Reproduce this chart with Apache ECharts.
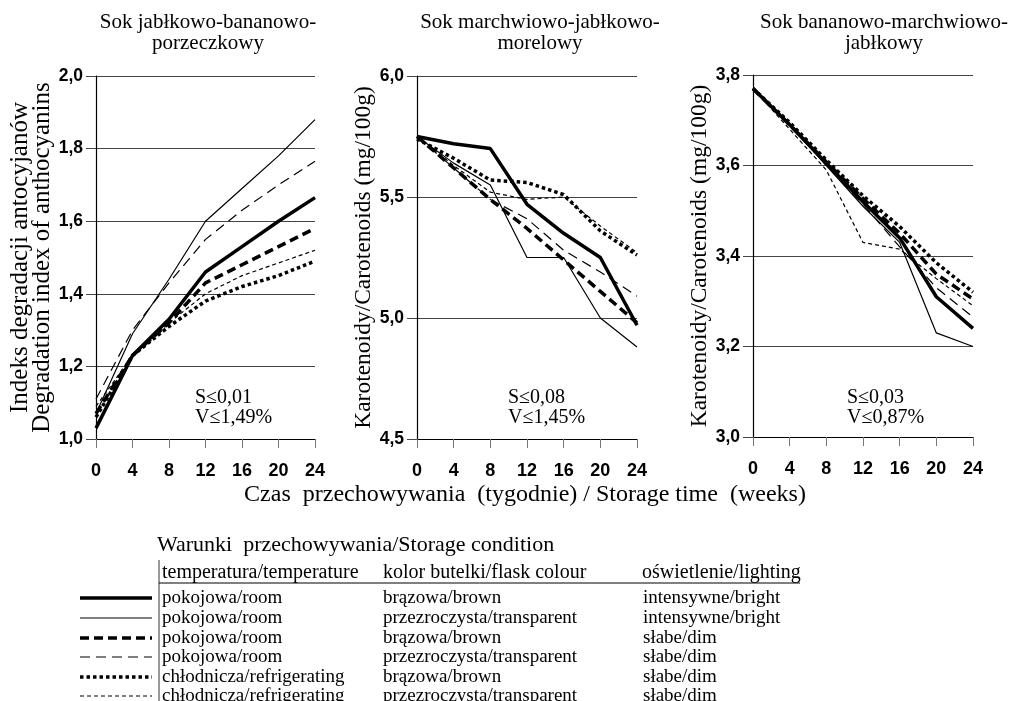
<!DOCTYPE html>
<html>
<head>
<meta charset="utf-8">
<title>Przechowywanie soków</title>
<script src="https://cdn.jsdelivr.net/npm/echarts@6/dist/echarts.min.js"></script>
<style>
  html, body { margin: 0; padding: 0; background: #fff; }
  #chart { width: 1012px; height: 701px; }
</style>
</head>
<body>
<div id="chart"></div>
<script>
// storage time, weeks
const weeks = [0, 4, 8, 12, 16, 20, 24]

// Sok jabłkowo-bananowo-porzeczkowy: degradation index of anthocyanins
const appleBananaCurrant = [
  [1.03, 1.23, 1.33, 1.46, 1.53, 1.60, 1.665],  // room, brown, bright
  [1.07, 1.29, 1.44, 1.60, 1.69, 1.78, 1.88],   // room, transparent, bright
  [1.07, 1.23, 1.32, 1.43, 1.48, 1.53, 1.58],   // room, brown, dim
  [1.11, 1.30, 1.43, 1.55, 1.63, 1.70, 1.765],  // room, transparent, dim
  [1.06, 1.23, 1.31, 1.38, 1.42, 1.45, 1.49],   // fridge, brown, dim
  [1.09, 1.23, 1.32, 1.40, 1.45, 1.485, 1.52]   // fridge, transparent, dim
]

// Sok marchwiowo-jabłkowo-morelowy: carotenoids mg/100g
const carrotAppleApricot = [
  [5.75, 5.72, 5.70, 5.47, 5.35, 5.25, 4.97],
  [5.75, 5.64, 5.55, 5.25, 5.25, 5.00, 4.88],
  [5.75, 5.62, 5.49, 5.37, 5.24, 5.11, 4.98],
  [5.75, 5.62, 5.49, 5.41, 5.28, 5.19, 5.09],
  [5.74, 5.66, 5.57, 5.56, 5.51, 5.36, 5.26],
  [5.75, 5.63, 5.52, 5.49, 5.50, 5.38, 5.27]
]

// Sok bananowo-marchwiowo-jabłkowy: carotenoids mg/100g
const bananaCarrotApple = [
  [3.77, 3.69, 3.605, 3.52, 3.44, 3.31, 3.24],
  [3.77, 3.69, 3.60, 3.51, 3.43, 3.23, 3.20],
  [3.77, 3.69, 3.608, 3.527, 3.45, 3.36, 3.305],
  [3.77, 3.69, 3.60, 3.515, 3.42, 3.33, 3.265],
  [3.77, 3.695, 3.612, 3.533, 3.465, 3.385, 3.32],
  [3.77, 3.68, 3.59, 3.43, 3.415, 3.35, 3.29]
]

const panelData = [appleBananaCurrant, carrotAppleApricot, bananaCarrotApple]
const panelTitles = ['Sok jabłkowo-bananowo-\nporzeczkowy', 'Sok marchwiowo-jabłkowo-\nmorelowy', 'Sok bananowo-marchwiowo-\njabłkowy']
const yNames = ['Indeks degradacji antocyjanów\nDegradation index of anthocyanins', 'Karotenoidy/Carotenoids (mg/100g)', 'Karotenoidy/Carotenoids (mg/100g)']
const yMin = [1.0, 4.5, 3.0]
const yMax = [2.0, 6.0, 3.8]
const yStep = [0.2, 0.5, 0.2]
const statS = ['S≤0,01', 'S≤0,08', 'S≤0,03']
const statV = ['V≤1,49%', 'V≤1,45%', 'V≤0,87%']

const tempLabels = ['pokojowa/room', 'pokojowa/room', 'pokojowa/room', 'pokojowa/room', 'chłodnicza/refrigerating', 'chłodnicza/refrigerating']
const flaskLabels = ['brązowa/brown', 'przezroczysta/transparent', 'brązowa/brown', 'przezroczysta/transparent', 'brązowa/brown', 'przezroczysta/transparent']
const lightLabels = ['intensywne/bright', 'intensywne/bright', 'słabe/dim', 'słabe/dim', 'słabe/dim', 'słabe/dim']

// layout / styles
const grids = [
  { left: 96, top: 76, width: 219, height: 363 },
  { left: 417, top: 76, width: 220, height: 363 },
  { left: 753, top: 75, width: 220, height: 362 }
]
const titleX = [208, 540, 884]
const statX = [195, 508, 847]
const nameGaps = [42, 34, 35]
const nameSizes = [25, 23.5, 23.5]
const lineStyles = [
  { width: 3.5, type: 'solid' },
  { width: 1.2, type: 'solid' },
  { width: 3.5, type: [9, 5] },
  { width: 1.2, type: [10, 6] },
  { width: 3.5, type: [3.5, 3] },
  { width: 1.2, type: [4, 3] }
]
const serif = "'Liberation Serif', 'Times New Roman', serif"
const sans = "'Liberation Sans', Arial, sans-serif"

const fmt = v => v.toFixed(1).replace('.', ',')

const chart = echarts.init(document.getElementById('chart'))

const xAxes = grids.map((g, i) => ({
  type: 'value',
  gridIndex: i,
  min: 0,
  max: 24,
  interval: 4,
  axisLine: { show: true, lineStyle: { color: '#000', width: 1.2 } },
  axisTick: { show: true, length: 9, lineStyle: { color: '#777' } },
  axisLabel: { color: '#000', fontFamily: sans, fontWeight: 'bold', fontSize: 18, margin: 23 },
  splitLine: { show: false }
}))

const yAxes = grids.map((g, i) => ({
  type: 'value',
  gridIndex: i,
  min: yMin[i],
  max: yMax[i],
  interval: yStep[i],
  axisLine: { show: true, lineStyle: { color: '#000', width: 1.2 } },
  axisTick: { show: true, length: 10, lineStyle: { color: '#444' } },
  axisLabel: { color: '#000', fontFamily: sans, fontWeight: 'bold', fontSize: 17.5, margin: 13, formatter: fmt },
  splitLine: { show: true, lineStyle: { color: '#444', width: 1 } },
  name: yNames[i],
  nameLocation: 'middle',
  nameGap: nameGaps[i],
  nameTextStyle: { color: '#000', fontFamily: serif, fontSize: nameSizes[i], lineHeight: 22 }
}))

const series = []
panelData.forEach((lines, p) => {
  lines.forEach((vals, s) => {
    series.push({
      type: 'line',
      xAxisIndex: p,
      yAxisIndex: p,
      data: weeks.map((w, k) => [w, vals[k]]),
      symbol: 'none',
      silent: true,
      lineStyle: { color: '#000', width: lineStyles[s].width, type: lineStyles[s].type, cap: 'butt' }
    })
  })
})

const textEl = (text, x, y, size, extra) => ({
  type: 'text',
  x: x,
  y: y,
  silent: true,
  style: Object.assign({
    text: text,
    fill: '#000',
    fontFamily: serif,
    fontSize: size,
    textAlign: 'left',
    textVerticalAlign: 'middle'
  }, extra || {})
})

const graphics = []
panelTitles.forEach((t, i) => {
  graphics.push(textEl(t, titleX[i], 33, 21, { textAlign: 'center', lineHeight: 21 }))
  graphics.push(textEl(statS[i], statX[i], 398, 20))
  graphics.push(textEl(statV[i], statX[i], 418, 20))
})
graphics.push(textEl('Czas  przechowywania  (tygodnie) / Storage time  (weeks)', 525, 495, 24, { textAlign: 'center' }))

// legend table
graphics.push(textEl('Warunki  przechowywania/Storage condition', 157, 545, 22))
graphics.push(textEl('temperatura/temperature', 162, 573, 20))
graphics.push(textEl('kolor butelki/flask colour', 383, 573, 20))
graphics.push(textEl('oświetlenie/lighting', 642, 573, 20))
graphics.push({ type: 'line', silent: true, shape: { x1: 159, y1: 583, x2: 800, y2: 583 }, style: { stroke: '#000', lineWidth: 1 } })
graphics.push({ type: 'line', silent: true, shape: { x1: 159, y1: 560, x2: 159, y2: 701 }, style: { stroke: '#000', lineWidth: 0.8 } })
const rowY = [598, 618, 638, 657, 677, 696]
tempLabels.forEach((t, r) => {
  const ls = lineStyles[r]
  graphics.push({
    type: 'line',
    silent: true,
    shape: { x1: 80, y1: rowY[r], x2: 152, y2: rowY[r] },
    style: { stroke: '#000', lineWidth: ls.width, lineDash: ls.type === 'solid' ? null : ls.type }
  })
  graphics.push(textEl(t, 162, rowY[r], 19))
  graphics.push(textEl(flaskLabels[r], 383, rowY[r], 19))
  graphics.push(textEl(lightLabels[r], 643, rowY[r], 19))
})

const option = {
  animation: false,
  backgroundColor: '#fff',
  grid: grids,
  xAxis: xAxes,
  yAxis: yAxes,
  series: series,
  graphic: graphics
}

chart.setOption(option)
window.addEventListener('resize', () => chart.resize())
</script>
</body>
</html>
